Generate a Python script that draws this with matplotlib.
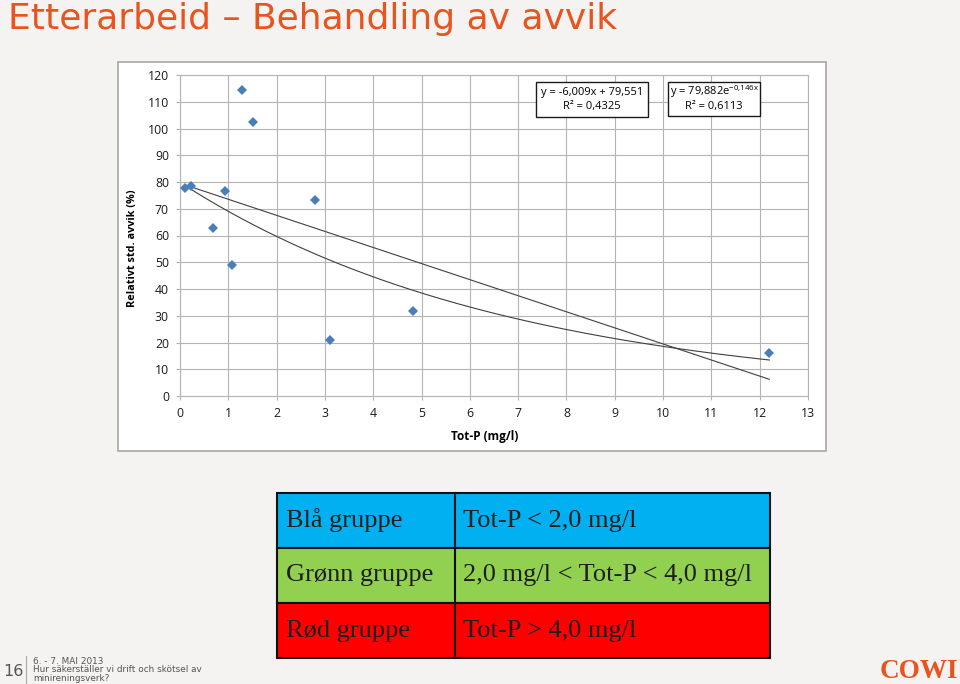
import matplotlib
matplotlib.use("Agg")
import matplotlib.pyplot as plt
from matplotlib.patches import Rectangle
from matplotlib.lines import Line2D
import numpy as np

# data
tot_p = [0.10, 0.23, 0.68, 0.93, 1.08, 1.28, 1.51, 2.80, 3.11, 4.82, 12.2]
rel_std = [77.8, 78.6, 62.8, 76.6, 49.0, 114.4, 102.4, 73.3, 20.9, 31.8, 16.1]

# trend line coefficients as printed in the chart
lin_slope, lin_icpt = -6.009, 79.551
exp_a, exp_b = 79.882, -0.146

x_ticks = list(range(0, 14))
y_ticks = list(range(0, 121, 10))

groups = ["Blå gruppe", "Grønn gruppe", "Rød gruppe"]
limits = ["Tot-P < 2,0 mg/l", "2,0 mg/l < Tot-P < 4,0 mg/l", "Tot-P > 4,0 mg/l"]
group_colors = ["#00b0f0", "#92d050", "#ff0000"]

W, H = 960, 684
bg = "#f4f3f2"
orange = "#e8541e"

def fx(px):
    return px / W

def fy(py):
    return 1 - py / H

fig = plt.figure(figsize=(9.6, 6.84), dpi=100, facecolor=bg)

# title
fig.text(fx(8), fy(29), "Etterarbeid – Behandling av avvik", color=orange,
         fontsize=26, va="baseline", ha="left", family="DejaVu Sans")

# white chart panel
fig.patches.append(Rectangle((fx(118), fy(451)), fx(708), 389 / H,
                             transform=fig.transFigure, facecolor="white",
                             edgecolor="#a6a6a6", linewidth=1.2, zorder=-1))

ax = fig.add_axes([fx(180), fy(396), fx(628), 321 / H])
ax.set_facecolor("white")
ax.set_xlim(0, 13)
ax.set_ylim(0, 120)
ax.set_xticks(x_ticks)
ax.set_yticks(y_ticks)
ax.grid(True, color="#b4b4b4", linewidth=0.8)
ax.set_axisbelow(True)
for s in ax.spines.values():
    s.set_color("#b4b4b4")
    s.set_linewidth(0.8)
ax.tick_params(length=3, color="#b4b4b4", labelsize=8.8, pad=5,
               labelcolor="#1a1a1a")
for lab in ax.get_xticklabels() + ax.get_yticklabels():
    lab.set_family("Open Sans")

xs = np.linspace(min(tot_p), max(tot_p), 200)
ax.plot(xs, lin_slope * xs + lin_icpt, color="#404040", lw=0.8, zorder=3)
ax.plot(xs, exp_a * np.exp(exp_b * xs), color="#404040", lw=0.8, zorder=3)
ax.plot(tot_p, rel_std, "D", color="#4a7ebb", markersize=5.5, zorder=4,
        markeredgewidth=0)

ax.set_xlabel("Tot-P (mg/l)", fontsize=8.5, fontweight="bold",
              family="Open Sans")
ax.xaxis.set_label_coords((485 - 180) / 628, -34 / 321)
ax.set_ylabel("Relativt std. avvik (%)", fontsize=7.8, fontweight="bold",
              family="Open Sans")
ax.yaxis.set_label_coords(-42 / 628, (396 - 248) / 321)

# trend line equation boxes
eq_boxes = [((536, 82, 648, 117), "y = -6,009x + 79,551", "R² = 0,4325"),
            ((668, 82, 760, 116), "y = 79,882e$^{\\mathregular{-0{,}146x}}$",
             "R² = 0,6113")]
for (x0, y0, x1, y1), l1, l2 in eq_boxes:
    fig.add_artist(Rectangle((fx(x0), fy(y1)), fx(x1 - x0), (y1 - y0) / H,
                             transform=fig.transFigure, facecolor="white",
                             edgecolor="#1a1a1a", linewidth=1, zorder=5))
    cx = fx((x0 + x1) / 2)
    fig.text(cx, fy(y0 + 10), l1, fontsize=8, family="Open Sans",
             ha="center", va="center", zorder=6)
    fig.text(cx, fy(y0 + 25), l2, fontsize=8, family="Open Sans",
             ha="center", va="center", zorder=6)

# group table
tx0, tx1, tx2 = 277, 455, 770
ty0, rh = 493, 55
for i, (g, lim, c) in enumerate(zip(groups, limits, group_colors)):
    top = ty0 + i * rh
    fig.patches.append(Rectangle((fx(tx0), fy(top + rh)), fx(tx2 - tx0), rh / H,
                                 transform=fig.transFigure, facecolor=c,
                                 edgecolor="#111111", linewidth=1.5, zorder=1))
    fig.text(fx(tx0 + 9), fy(top + rh / 2), g, fontsize=19, color="#1e1e1e",
             family="Liberation Serif", va="center", ha="left", zorder=2)
    fig.text(fx(tx1 + 8), fy(top + rh / 2), lim, fontsize=19, color="#1e1e1e",
             family="Liberation Serif", va="center", ha="left", zorder=2)
fig.add_artist(Line2D([fx(tx1), fx(tx1)], [fy(ty0), fy(ty0 + 3 * rh)],
                      transform=fig.transFigure, color="#111111", lw=1.5,
                      zorder=2))

# footer
fig.text(fx(3), fy(671), "16", fontsize=11.5, color="#555555", va="center",
         family="DejaVu Sans")
fig.add_artist(Line2D([fx(26), fx(26)], [fy(656), fy(684)],
                      transform=fig.transFigure, color="#aaaaaa", lw=0.8))
fig.text(fx(33), fy(670), "6. - 7. MAI 2013\nHur säkerställer vi drift och skötsel av\nminireningsverk?",
         fontsize=6.4, color="#555555", va="center", ha="left",
         family="DejaVu Sans", linespacing=0.95)
fig.text(fx(958), fy(671), "COWI", fontsize=19.5, color=orange, va="center",
         ha="right", family="Liberation Serif", fontweight="bold")

fig.savefig("out.png", dpi=100, facecolor=bg)
